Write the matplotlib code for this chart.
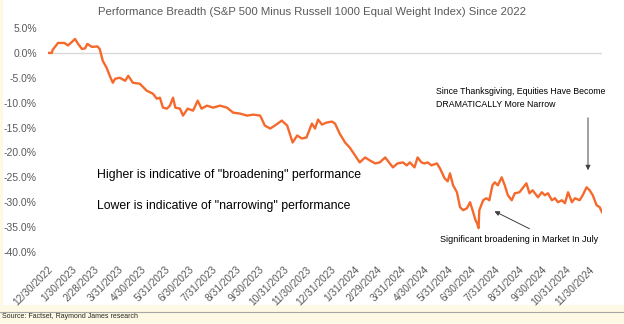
import matplotlib.pyplot as plt
import matplotlib.patches as patches
import pandas as pd

# S&P 500 minus Russell 1000 equal weight, cumulative %
dates = ["2022-12-30", "2023-01-04", "2023-01-05", "2023-01-12", "2023-01-20", "2023-01-25",
         "2023-01-30", "2023-02-03", "2023-02-07", "2023-02-12", "2023-02-16", "2023-02-19",
         "2023-02-25", "2023-03-04", "2023-03-07", "2023-03-11", "2023-03-16", "2023-03-20",
         "2023-03-24", "2023-03-27", "2023-04-02", "2023-04-09", "2023-04-13", "2023-04-19",
         "2023-04-28", "2023-05-07", "2023-05-15", "2023-05-20", "2023-05-24", "2023-05-28",
         "2023-06-02", "2023-06-06", "2023-06-10", "2023-06-13", "2023-06-19", "2023-06-23",
         "2023-06-29", "2023-07-06", "2023-07-12", "2023-07-17", "2023-07-24", "2023-08-01",
         "2023-08-10", "2023-08-19", "2023-08-27", "2023-09-05", "2023-09-14", "2023-09-22",
         "2023-10-01", "2023-10-07", "2023-10-14", "2023-10-20", "2023-10-29", "2023-11-05",
         "2023-11-12", "2023-11-18", "2023-11-24", "2023-11-30", "2023-12-07", "2023-12-11",
         "2023-12-15", "2023-12-20", "2023-12-26", "2024-01-02", "2024-01-06", "2024-01-12",
         "2024-01-19", "2024-01-25", "2024-02-01", "2024-02-07", "2024-02-14", "2024-02-20",
         "2024-02-27", "2024-03-04", "2024-03-11", "2024-03-14", "2024-03-21", "2024-03-27",
         "2024-04-03", "2024-04-08", "2024-04-12", "2024-04-18", "2024-04-22", "2024-04-27",
         "2024-05-01", "2024-05-05", "2024-05-10", "2024-05-17", "2024-05-21", "2024-05-27",
         "2024-05-31", "2024-06-03", "2024-06-07", "2024-06-12", "2024-06-16", "2024-06-20",
         "2024-06-25", "2024-06-29", "2024-07-03", "2024-07-06", "2024-07-08", "2024-07-10",
         "2024-07-11", "2024-07-16", "2024-07-20", "2024-07-24", "2024-07-28", "2024-07-31",
         "2024-08-04", "2024-08-09", "2024-08-13", "2024-08-17", "2024-08-22", "2024-08-26",
         "2024-09-01", "2024-09-05", "2024-09-10", "2024-09-14", "2024-09-18", "2024-09-25",
         "2024-09-30", "2024-10-04", "2024-10-08", "2024-10-13", "2024-10-17", "2024-10-21",
         "2024-10-26", "2024-10-30", "2024-11-03", "2024-11-08", "2024-11-12", "2024-11-18",
         "2024-11-22", "2024-11-27", "2024-12-01", "2024-12-05", "2024-12-10", "2024-12-14",
         "2024-12-17"]
breadth = [0.0, 0.0, 0.6, 2.0, 2.0, 1.5, 2.2, 2.8, 1.8, 0.8, 0.9, 1.8,
           1.2, 1.3, 0.8, -1.6, -3.0, -4.6, -6.0, -5.2, -5.0, -5.6, -4.6, -6.0,
           -6.2, -7.6, -8.2, -9.2, -9.0, -11.0, -11.2, -10.6, -9.0, -11.0, -11.2, -12.6,
           -11.2, -11.6, -9.6, -11.2, -10.6, -11.0, -10.6, -11.0, -12.0, -12.2, -12.6, -12.4,
           -12.6, -14.6, -15.2, -14.6, -13.6, -14.6, -18.0, -16.6, -17.2, -17.0, -14.2, -15.2,
           -13.4, -14.4, -14.0, -13.8, -14.2, -16.2, -18.0, -19.0, -20.6, -22.0, -21.0, -21.6,
           -22.2, -22.0, -21.0, -21.6, -23.0, -22.2, -22.0, -22.6, -22.0, -23.0, -21.0, -22.0,
           -22.2, -22.0, -22.6, -22.2, -23.2, -25.2, -25.8, -24.2, -26.6, -28.0, -31.0, -31.6,
           -31.2, -30.0, -32.0, -33.6, -34.2, -35.2, -31.6, -29.6, -29.2, -29.6, -26.6, -26.0,
           -26.6, -25.0, -26.6, -28.6, -29.6, -28.2, -28.0, -27.2, -26.2, -28.2, -27.6, -29.0,
           -28.0, -28.6, -28.2, -29.6, -29.2, -30.0, -29.6, -30.2, -28.0, -30.0, -29.2, -29.6,
           -28.6, -27.0, -27.6, -28.6, -30.6, -31.0, -32.0]

tick_dates = ["2022-12-30", "2023-01-30", "2023-02-28", "2023-03-31", "2023-04-30", "2023-05-31",
              "2023-06-30", "2023-07-31", "2023-08-31", "2023-09-30", "2023-10-31", "2023-11-30",
              "2023-12-31", "2024-01-31", "2024-02-29", "2024-03-31", "2024-04-30", "2024-05-31",
              "2024-06-30", "2024-07-31", "2024-08-31", "2024-09-30", "2024-10-31", "2024-11-30"]
y_ticks = [5, 0, -5, -10, -15, -20, -25, -30, -35, -40]

plt.rcParams['font.family'] = ['Liberation Sans', 'DejaVu Sans']

x = pd.to_datetime(dates)
xt = pd.to_datetime(tick_dates)

fig = plt.figure(figsize=(6.24, 3.24), dpi=100)
fig.patch.set_facecolor('#FEF9E4')
# white chart panel over the cream page
fig.add_artist(patches.Rectangle((3 / 624, 1 - 305 / 324), 621 / 624, 305 / 324,
                                 transform=fig.transFigure, facecolor='white', edgecolor='none', zorder=0))
fig.add_artist(plt.Line2D([0, 1], [1 - 312 / 324, 1 - 312 / 324], transform=fig.transFigure,
                          color='#A6A6A6', lw=0.8))

ax = fig.add_axes([48 / 624, 1 - 252 / 324, 554 / 624, 224 / 324])
ax.set_facecolor('none')
ax.plot(x, breadth, color='#F56A2C', lw=1.7, zorder=3)
ax.axhline(0, color='#D9D9D9', lw=1.0, zorder=1)

ax.set_xlim(x[0], x[-1])
ax.set_ylim(-40, 5)
ax.set_yticks(y_ticks)
ax.set_yticklabels([f'{v:.1f}%' for v in y_ticks], color='#595959', fontsize=7.5)
ax.set_xticks(xt)
ax.set_xticklabels([f'{d.month}/{d.day}/{d.year}' for d in xt], rotation=45, ha='right',
                   rotation_mode='anchor', color='#595959', fontsize=7.3)
ax.tick_params(length=0, pad=9)
ax.tick_params(axis='y', pad=8)
for s in ax.spines.values():
    s.set_visible(False)

fig.text(0.5, 1 - 12 / 324, 'Performance Breadth (S&P 500 Minus Russell 1000 Equal Weight Index) Since 2022',
         ha='center', va='center', color='#595959', fontsize=8.2)

fig.text(97 / 624, 1 - 175 / 324, 'Higher is indicative of "broadening" performance',
         ha='left', va='center', fontsize=8.8, color='black')
fig.text(97 / 624, 1 - 206 / 324, 'Lower is indicative of "narrowing" performance',
         ha='left', va='center', fontsize=8.8, color='black')
fig.text(436 / 624, 1 - 98 / 324, 'Since Thanksgiving, Equities Have Become\nDRAMATICALLY More Narrow',
         ha='left', va='center', fontsize=6.3, color='black', linespacing=1.5)
fig.text(440 / 624, 1 - 239 / 324, 'Significant broadening in Market In July',
         ha='left', va='center', fontsize=6.5, color='black')
fig.text(2 / 624, 1 - 317 / 324, 'Source: Factset, Raymond James research',
         ha='left', va='center', fontsize=5.0, color='#262626')

ax.annotate('', xy=(588 / 624, 1 - 173 / 324), xytext=(588 / 624, 1 - 115 / 324),
            xycoords='figure fraction', textcoords='figure fraction',
            arrowprops=dict(arrowstyle='-|>', color='#404040', lw=0.7, mutation_scale=7))
ax.annotate('', xy=(492 / 624, 1 - 210 / 324), xytext=(532 / 624, 1 - 230 / 324),
            xycoords='figure fraction', textcoords='figure fraction',
            arrowprops=dict(arrowstyle='-|>', color='#404040', lw=0.7, mutation_scale=7))

fig.savefig('out.png', dpi=100, facecolor=fig.get_facecolor())
